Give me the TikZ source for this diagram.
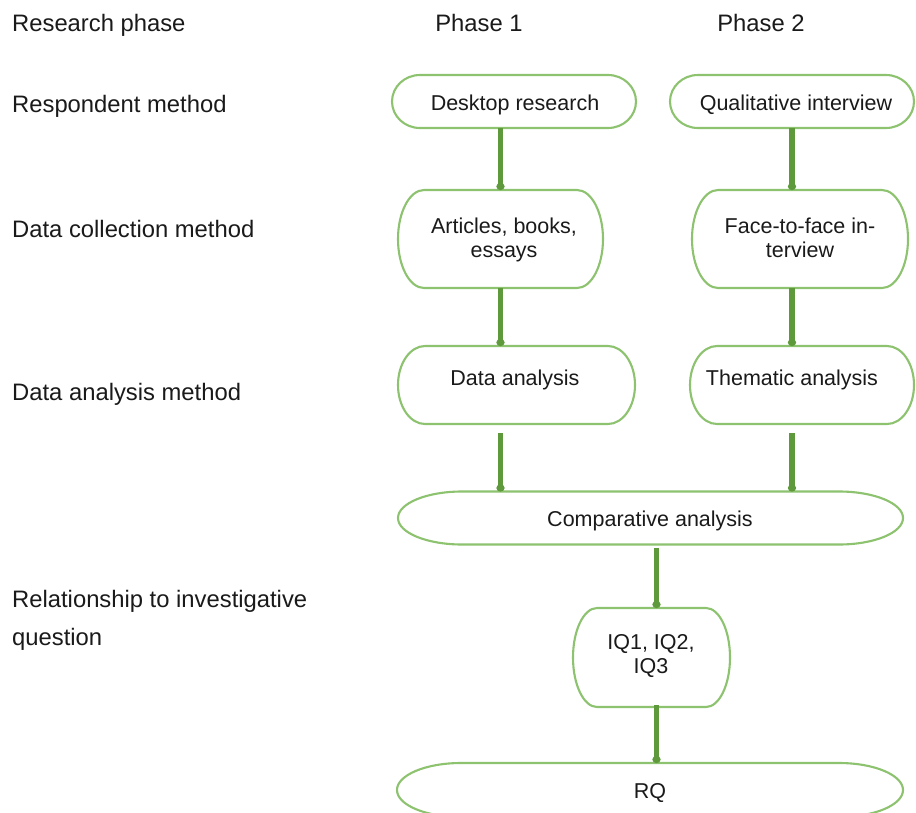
\documentclass[tikz,border=0pt]{standalone}
\usepackage{fontspec}
\setmainfont{Liberation Sans}
\usetikzlibrary{arrows.meta,calc}

\definecolor{linkgreen}{HTML}{5E9A3C}
\definecolor{edgegreen}{HTML}{8DC26F}
\definecolor{ink}{HTML}{1A1A1A}

% outline of a terminator box: straight top and bottom, half-ellipse ends
\newcommand\termshape[3]{%
  \draw[boxline] ([xshift=#2]#1.north west) -- ([xshift=-#2]#1.north east)
    arc[start angle=90,end angle=-90,x radius=#2,y radius=#3]
    -- ([xshift=#2]#1.south west)
    arc[start angle=270,end angle=90,x radius=#2,y radius=#3] -- cycle;}

\tikzset{
  frame/.style={rectangle,draw=none,inner sep=0pt,outer sep=0pt},
  boxline/.style={draw=edgegreen,line width=2.1pt,fill=white},
  conn/.style={draw=linkgreen,line width=5.5pt,-{Circle[length=7pt,width=8pt]}},
  rowlabel/.style={anchor=base west,inner sep=0pt,text=ink,font=\fontsize{23.8}{38}\selectfont,align=left},
  boxtext/.style={inner sep=0pt,text=ink,font=\fontsize{21.5}{24.5}\selectfont,align=center},
}

\begin{document}
\begin{tikzpicture}[x=1pt,y=-1pt]
\useasboundingbox (0,0) rectangle (916,812);
\clip (0,0) rectangle (916,812);
\fill[white] (0,0) rectangle (916,812);

% row labels and column heads
\node[rowlabel] (lphase) at (12,31) {Research phase};
\node[rowlabel] (lresp)  at (12,112) {Respondent method};
\node[rowlabel] (lcoll)  at (12,237) {Data collection method};
\node[rowlabel] (lanal)  at (12,400) {Data analysis method};
\node[rowlabel,anchor=north west] (lrel) at (12,590.5) {Relationship to investigative\\question};
\node[rowlabel,anchor=base] (ph1) at (479,31) {Phase 1};
\node[rowlabel,anchor=base] (ph2) at (761,31) {Phase 2};

% box frames
\node[frame,minimum width=244pt,minimum height=53pt] (dr) at (514,101.5) {};
\node[frame,minimum width=244pt,minimum height=53pt] (qi) at (792,101.5) {};
\node[frame,minimum width=205pt,minimum height=98pt] (ar) at (500.5,239) {};
\node[frame,minimum width=216pt,minimum height=98pt] (ff) at (800,239) {};
\node[frame,minimum width=237pt,minimum height=78pt] (da) at (516.5,385) {};
\node[frame,minimum width=224pt,minimum height=78pt] (ta) at (802,385) {};
\node[frame,minimum width=505pt,minimum height=53pt] (ca) at (650.5,518) {};
\node[frame,minimum width=157pt,minimum height=99pt] (iq) at (651.5,657.5) {};
\node[frame,minimum width=506pt,minimum height=54pt] (rq) at (650,790) {};

\termshape{dr}{28pt}{26.5pt}
\termshape{qi}{28pt}{26.5pt}
\termshape{ar}{26pt}{49pt}
\termshape{ff}{26pt}{49pt}
\termshape{da}{27pt}{39pt}
\termshape{ta}{27pt}{39pt}
\termshape{ca}{64pt}{26.5pt}
\termshape{iq}{24pt}{49.5pt}
\termshape{rq}{64pt}{27pt}

% box texts
\node[boxtext,anchor=base] (drt) at (515,110) {Desktop research};
\node[boxtext,anchor=base] (qit) at (796,110) {Qualitative interview};
\node[boxtext] (art) at (504,240) {Articles, books,\\essays};
\node[boxtext] (fft) at (800,237.7) {Face-to-face in-\\terview};
\node[boxtext,anchor=base] (dat) at (515,385) {Data analysis};
\node[boxtext,anchor=base] (tat) at (792,385) {Thematic analysis};
\node[boxtext,anchor=base] (cat) at (650,526) {Comparative analysis};
\node[boxtext] (iqt) at (651,656) {IQ1, IQ2,\\IQ3};
\node[boxtext,anchor=base] (rqt) at (650,798) {RQ};

% connectors
\draw[conn] (dr.south -| ar.north) -- (ar.north);
\draw[conn] (qi.south) -- (qi.south |- ff.north);
\draw[conn] (ar.south) -- (ar.south |- da.north);
\draw[conn] (ff.south -| qi.south) -- (qi.south |- ta.north);
\draw[conn] ($(ar.south |- da.south)+(0,9)$) -- (ar.south |- ca.north);
\draw[conn] ($(qi.south |- ta.south)+(0,9)$) -- (qi.south |- ca.north);
\draw[conn] ($(ca.south)+(6,3)$) -- ($(iq.north)+(5,0)$);
\draw[conn] ($(iq.south)+(5,-2)$) -- ($(iq.south |- rq.north)+(5,0)$);
\end{tikzpicture}
\end{document}
